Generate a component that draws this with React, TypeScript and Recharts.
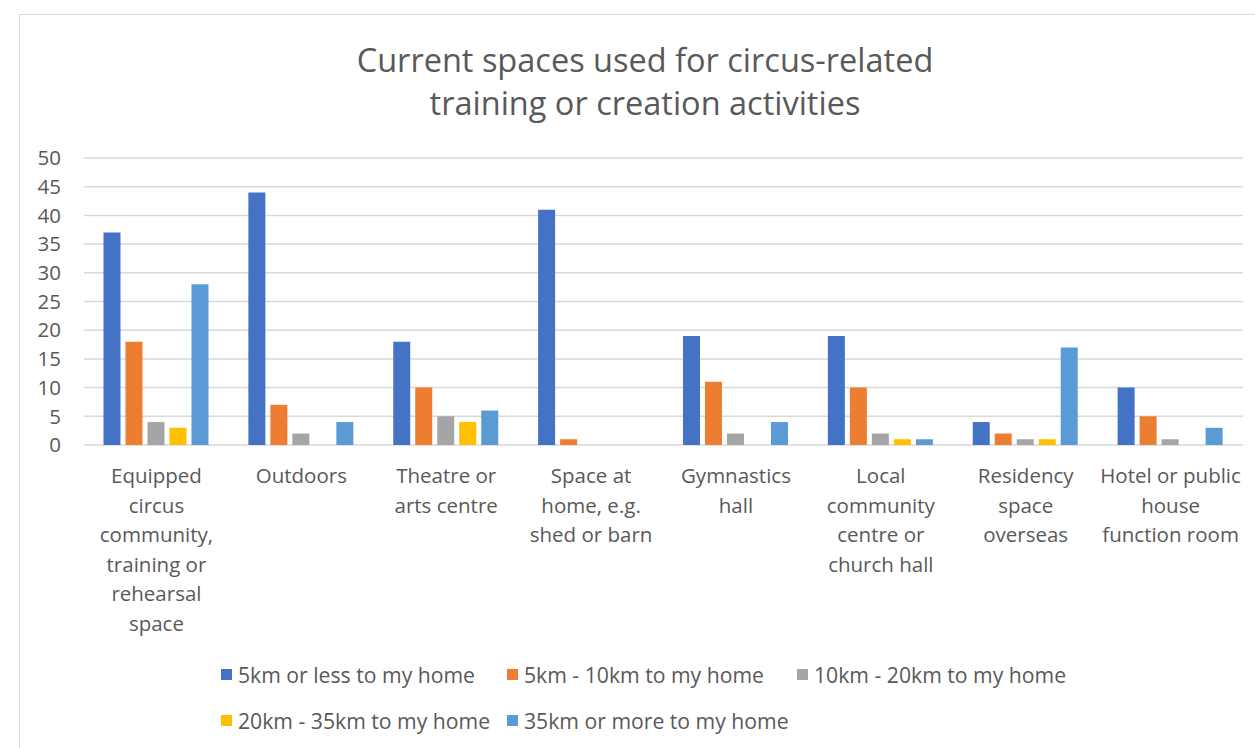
import React from 'react';
import { BarChart, Bar, XAxis, YAxis, CartesianGrid } from 'recharts';

const categories = [
  'Equipped\ncircus\ncommunity,\ntraining or\nrehearsal\nspace',
  'Outdoors',
  'Theatre or\narts centre',
  'Space at\nhome, e.g.\nshed or barn',
  'Gymnastics\nhall',
  'Local\ncommunity\ncentre or\nchurch hall',
  'Residency\nspace\noverseas',
  'Hotel or public\nhouse\nfunction room',
];

const seriesNames = [
  '5km or less to my home',
  '5km - 10km to my home',
  '10km - 20km to my home',
  '20km - 35km to my home',
  '35km or more to my home',
];

const seriesColors = ['#4472C4', '#ED7D31', '#A5A5A5', '#FFC000', '#5B9BD5'];

const lessThan5 = [37, 44, 18, 41, 19, 19, 4, 10];
const from5to10 = [18, 7, 10, 1, 11, 10, 2, 5];
const from10to20 = [4, 2, 5, 0, 2, 2, 1, 1];
const from20to35 = [3, 0, 4, 0, 0, 1, 1, 0];
const over35 = [28, 4, 6, 0, 4, 1, 17, 3];

const yTicks = [0, 5, 10, 15, 20, 25, 30, 35, 40, 45, 50];

const seriesValues = [lessThan5, from5to10, from10to20, from20to35, over35];
const keys = ['s0', 's1', 's2', 's3', 's4'];

const data = categories.map((c, i) => {
  const row: any = { name: c };
  keys.forEach((k, j) => (row[k] = seriesValues[j][i]));
  return row;
});

const FONT = '"Open Sans", Lato, sans-serif';
const TEXT = '#595959';
const FS = 20.5;
const LEGEND_FS = 21.2;

const CatTick = (props: any) => {
  const { x, y, payload } = props;
  const lines = String(payload.value).split('\n');
  return (
    <g>
      {lines.map((l, i) => (
        <text
          key={i}
          x={x}
          y={y + 38 + i * 29.5}
          textAnchor="middle"
          fill={TEXT}
          fontSize={FS}
          fontFamily={FONT}
        >
          {l}
        </text>
      ))}
    </g>
  );
};

const legendCols = [221, 507, 797];

export default function App() {
  return (
    <div style={{ position: 'absolute', left: 0, top: 0, width: 1255, height: 748, background: '#fff', overflow: 'hidden', fontFamily: FONT }}>
      <div style={{ position: 'absolute', left: 19, top: 14, width: 1300, height: 800, border: '1px solid #d9d9d9' }} />
      <div style={{ position: 'absolute', left: 145, width: 1000, top: 38, textAlign: 'center', fontSize: 32.5, lineHeight: '43px', color: TEXT }}>
        <div>Current spaces used for circus-related</div>
        <div>training or creation activities</div>
      </div>
      <div style={{ position: 'absolute', left: 0, top: 0 }}>
        <BarChart
          width={1255}
          height={748}
          data={data}
          margin={{ top: 158, right: 12, bottom: 243, left: 0 }}
          barCategoryGap="13.45%"
          barGap={5}
        >
          <CartesianGrid vertical={false} stroke="#d9d9d9" strokeWidth={1.5} />
          <XAxis
            dataKey="name"
            height={60}
            axisLine={false}
            tickLine={false}
            tickSize={0}
            tickMargin={0}
            interval={0}
            tick={<CatTick />}
          />
          <YAxis
            width={84}
            domain={[0, 50]}
            ticks={yTicks}
            axisLine={false}
            tickLine={false}
            tickSize={0}
            tickMargin={23}
            tick={{ fill: TEXT, fontSize: FS, fontFamily: FONT }}
          />
          {keys.map((k, j) => (
            <Bar key={k} dataKey={k} name={seriesNames[j]} fill={seriesColors[j]} isAnimationActive={false} />
          ))}
        </BarChart>
      </div>
      {seriesNames.map((n, j) => {
        const row = Math.floor(j / 3);
        const col = j % 3;
        return (
          <div
            key={n}
            style={{
              position: 'absolute',
              left: legendCols[col],
              top: 674 + row * 46 - 12,
              height: 24,
              display: 'flex',
              alignItems: 'center',
              fontSize: LEGEND_FS,
              color: TEXT,
              whiteSpace: 'nowrap',
            }}
          >
            <span style={{ display: 'inline-block', width: 11, height: 11, background: seriesColors[j], marginRight: 6 }} />
            <span>{n}</span>
          </div>
        );
      })}
    </div>
  );
}
